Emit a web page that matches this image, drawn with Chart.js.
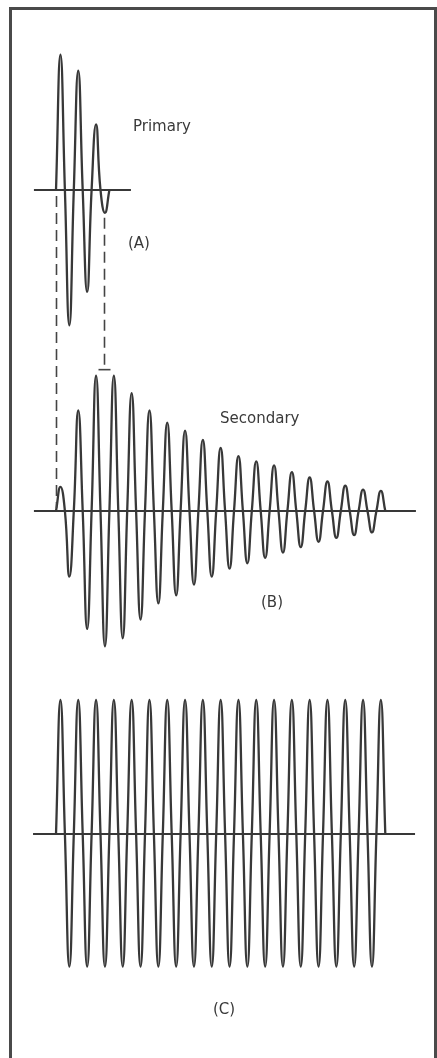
<!DOCTYPE html>
<html>
<head>
<meta charset="utf-8">
<script src="https://cdn.jsdelivr.net/npm/chart.js@4/dist/chart.umd.min.js"></script>
<style>
html,body{margin:0;padding:0;background:#fff;width:437px;height:1058px;overflow:hidden}
#wrap{position:relative;width:437px;height:1058px}
#frame{position:absolute;left:9px;top:7px;width:428px;height:1080px;border-left:3px solid #4a4a4a;border-top:3px solid #4a4a4a;border-right:3px solid #4a4a4a;box-sizing:border-box}
#c{position:absolute;left:0;top:0}
.lbl{position:absolute;font-family:"DejaVu Sans",sans-serif;font-size:15px;color:#3a3a3a;line-height:15px;white-space:nowrap}
</style>
</head>
<body>
<div id="wrap">
  <div id="frame"></div>
  <canvas id="c" width="437" height="1058"></canvas>
  <div class="lbl" id="l0" style="left:133px;top:119px"></div>
  <div class="lbl" id="l1" style="left:128px;top:236px"></div>
  <div class="lbl" id="l2" style="left:220px;top:411px"></div>
  <div class="lbl" id="l3" style="left:261px;top:595px"></div>
  <div class="lbl" id="l4" style="left:213px;top:1002px"></div>
</div>
<script>
// ---- data (amplitudes in % of the steady wave's amplitude; time in cycles) ----
const labels = ["Primary", "(A)", "Secondary", "(B)", "(C)"];
const primaryPeaks = [101, 89, 49];
const primaryTroughs = [-101, -76, -17];
const secondaryPeaks = [18, 75, 101, 101, 88, 75, 66, 60, 53, 47, 41, 37, 34, 29, 25, 22, 19, 16, 15];
const secondaryTroughs = [-49, -88, -101, -95, -81, -69, -63, -55, -49, -43, -39, -35, -31, -27, -23, -20, -18, -16];
const steadyPeaks = [100, 100, 100, 100, 100, 100, 100, 100, 100, 100, 100, 100, 100, 100, 100, 100, 100, 100, 100];
const steadyTroughs = [-99, -99, -99, -99, -99, -99, -99, -99, -99, -99, -99, -99, -99, -99, -99, -99, -99, -99];
const onsetTime = 0;          // start of every wave (cycles)
const primaryEndTime = 2.75;  // last trough of the primary pulse
const axisSpanA = [-1.24, 4.21];
const axisSpanB = [-1.24, 20.22];
const axisSpanC = [-1.29, 20.17];

labels.forEach((t, i) => { document.getElementById('l' + i).textContent = t; });

// interleave peaks/troughs with the axis crossings between them
function wave(peaks, troughs) {
  const pts = [{x: onsetTime, y: 0}];
  const n = peaks.length + troughs.length;
  for (let k = 0; k < n; k++) {
    const v = (k % 2 === 0) ? peaks[k / 2] : troughs[(k - 1) / 2];
    pts.push({x: onsetTime + 0.25 + 0.5 * k, y: v});
    pts.push({x: onsetTime + 0.5 * (k + 1), y: 0});
  }
  return pts;
}
function axisLine(span) { return [{x: span[0], y: 0}, {x: span[1], y: 0}]; }

const INK = '#383838';
const waveStyle = {borderColor: INK, borderWidth: 2.3, tension: 0.5, fill: false, pointRadius: 0};
const axisStyle = {borderColor: INK, borderWidth: 1.8, fill: false, pointRadius: 0, tension: 0};

const connectors = {
  id: 'connectors',
  afterDatasetsDraw(chart) {
    const {ctx, scales: {x, yA, yB}} = chart;
    ctx.save();
    ctx.strokeStyle = '#444';
    ctx.lineWidth = 1.6;
    ctx.setLineDash([11, 6]);
    let px = Math.round(x.getPixelForValue(onsetTime)) + 0.5;
    ctx.beginPath();
    ctx.moveTo(px, yA.getPixelForValue(0) + 6);
    ctx.lineTo(px, yB.getPixelForValue(0) - 3);
    ctx.stroke();
    px = Math.round(x.getPixelForValue(primaryEndTime)) - 0.5;
    const top = yA.getPixelForValue(primaryTroughs[primaryTroughs.length - 1]) + 5;
    const bot = yB.getPixelForValue(Math.max(...secondaryPeaks)) - 6;
    ctx.beginPath();
    ctx.moveTo(px, top);
    ctx.lineTo(px, bot);
    ctx.stroke();
    ctx.setLineDash([]);
    ctx.beginPath();
    ctx.moveTo(px - 6, bot);
    ctx.lineTo(px + 6, bot);
    ctx.stroke();
    ctx.restore();
  }
};

new Chart(document.getElementById('c'), {
  type: 'line',
  data: {
    datasets: [
      Object.assign({data: axisLine(axisSpanA), yAxisID: 'yA'}, axisStyle),
      Object.assign({data: axisLine(axisSpanB), yAxisID: 'yB'}, axisStyle),
      Object.assign({data: axisLine(axisSpanC), yAxisID: 'yC'}, axisStyle),
      Object.assign({data: wave(primaryPeaks, primaryTroughs), yAxisID: 'yA'}, waveStyle),
      Object.assign({data: wave(secondaryPeaks, secondaryTroughs), yAxisID: 'yB'}, waveStyle),
      Object.assign({data: wave(steadyPeaks, steadyTroughs), yAxisID: 'yC'}, waveStyle)
    ]
  },
  options: {
    responsive: false,
    animation: false,
    devicePixelRatio: 1,
    layout: {padding: 0},
    plugins: {legend: {display: false}, tooltip: {enabled: false}},
    scales: {
      x: {type: 'linear', min: -3.146, max: 21.404, display: false},
      yA: {type: 'linear', min: -647.76, max: 141.79, display: false},
      yB: {type: 'linear', min: -408.21, max: 381.34, display: false},
      yC: {type: 'linear', min: -167.16, max: 622.39, display: false}
    }
  },
  plugins: [connectors]
});
</script>
</body>
</html>
